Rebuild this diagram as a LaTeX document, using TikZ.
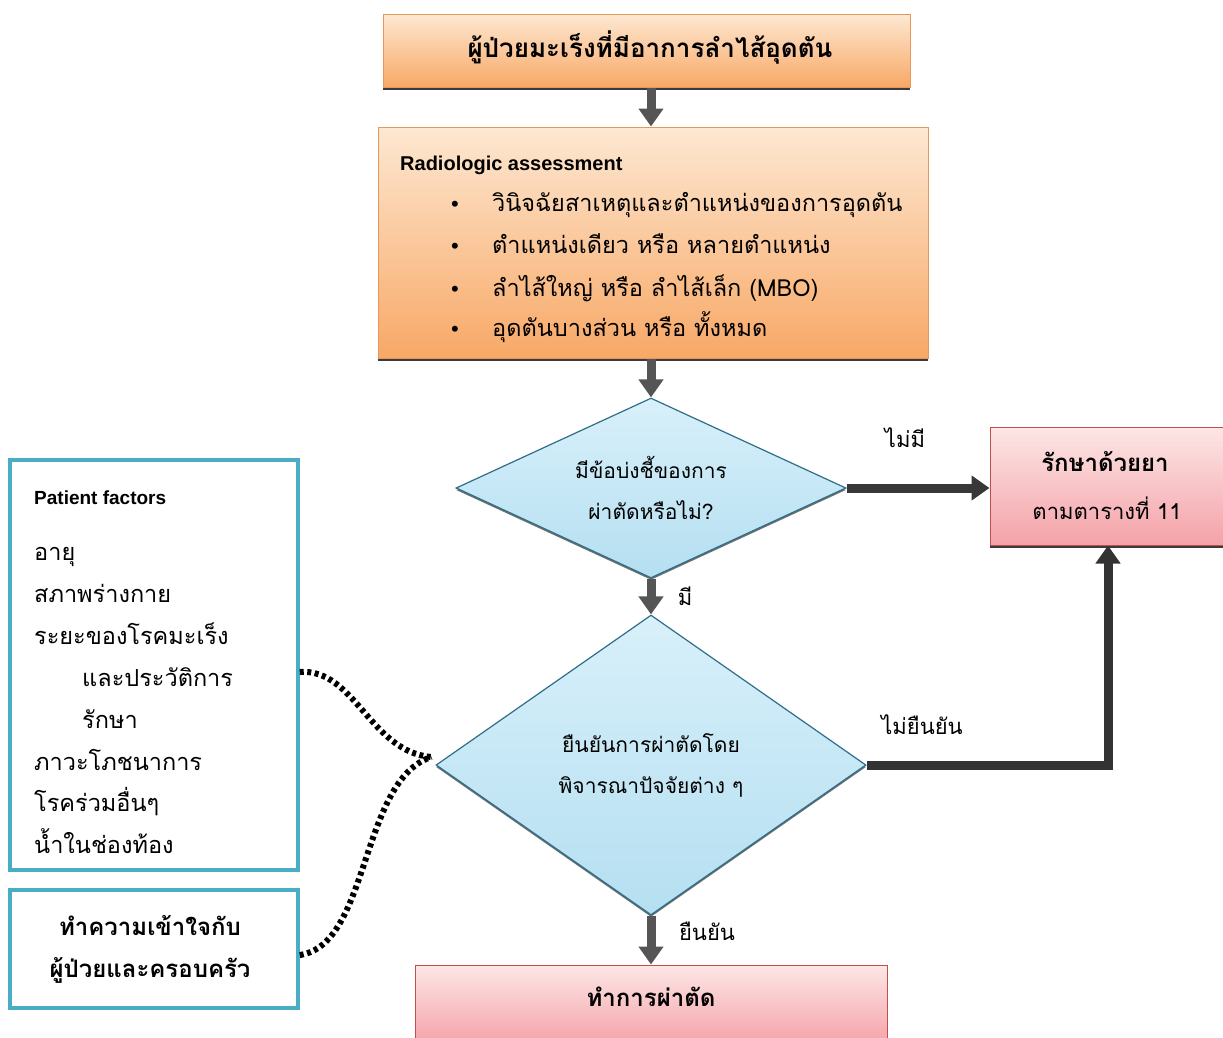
\documentclass[tikz,border=0pt]{standalone}
\usepackage{fontspec}
\setmainfont{Liberation Sans}
\newfontfamily\thai[Script=Thai]{Loma}
\usetikzlibrary{shapes.geometric,arrows.meta,shadows}
\definecolor{orTop}{HTML}{FDE8D2}
\definecolor{orBot}{HTML}{F8A866}
\definecolor{orBorder}{HTML}{E8975A}
\definecolor{pkTop}{HTML}{FDE6E6}
\definecolor{pkBot}{HTML}{F4A2A8}
\definecolor{pkBorder}{HTML}{C0504D}
\definecolor{blTop}{HTML}{D8F0FA}
\definecolor{blBot}{HTML}{B5DFF1}
\definecolor{blBorder}{HTML}{2F6E88}
\definecolor{tealB}{HTML}{4BACC6}
\definecolor{arrGray}{HTML}{555555}
\begin{document}
\begin{tikzpicture}[x=1pt,y=-1pt,
  orangebox/.style={draw=orBorder,line width=1pt,top color=orTop,bottom color=orBot,
    drop shadow={shadow xshift=0pt,shadow yshift=-3pt,fill=black!85,opacity=0.9},inner sep=0pt},
  pinkbox/.style={draw=pkBorder,line width=1pt,top color=pkTop,bottom color=pkBot,
    drop shadow={shadow xshift=0pt,shadow yshift=-3pt,fill=black!85,opacity=0.9},inner sep=0pt},
  decbox/.style={diamond,draw=blBorder,line width=1.2pt,top color=blTop,bottom color=blBot,
    drop shadow={shadow xshift=0pt,shadow yshift=-2pt,fill=black!70,opacity=0.8},
    inner sep=0pt,aspect=2,align=center,font=\thai\fontsize{21}{41}\selectfont},
  sidebox/.style={draw=tealB,line width=3.5pt,fill=white,inner sep=0pt},
  flowarrow/.style={draw=arrGray,line width=9pt,-{Triangle[width=24pt,length=18pt]}},
  dotline/.style={draw=black,line width=6pt,dash pattern=on 4pt off 3.5pt},
  thaitxt/.style={font=\thai\fontsize{23.5}{28}\selectfont,inner sep=0pt},
  thaibold/.style={font=\thai\bfseries\fontsize{24}{28}\selectfont,inner sep=0pt},
  lbl/.style={font=\thai\fontsize{22}{26}\selectfont,inner sep=0pt}
]
\useasboundingbox (0,0) rectangle (1223,1037);
\fill[white] (0,0) rectangle (1223,1037);

% top box
\node[orangebox,minimum width=527pt,minimum height=73pt] (b1) at (646.5,50.5) {};
\node[font=\thai\bfseries\fontsize{26}{30}\selectfont,inner sep=0pt] (t1) at (650,48) {ผู้ป่วยมะเร็งที่มีอาการลำไส้อุดตัน};

% radiologic box
\node[orangebox,minimum width=550pt,minimum height=231pt] (b2) at (653,242.5) {};
\node[anchor=base west,font=\bfseries\fontsize{20}{24}\selectfont,inner sep=0pt] (t2) at (400,170) {Radiologic assessment};
\foreach \yy/\tx [count=\i] in {211/วินิจฉัยสาเหตุและตำแหน่งของการอุดตัน,253/ตำแหน่งเดียว หรือ หลายตำแหน่ง,296/ลำไส้ใหญ่ หรือ ลำไส้เล็ก (MBO),336/อุดตันบางส่วน หรือ ทั้งหมด}{
  \node[anchor=base,font=\fontsize{22}{24}\selectfont,inner sep=0pt] (bul\i) at (455,\yy) {•};
  \node[anchor=base west,thaitxt] (li\i) at (492,\yy) {\tx};
}

% decision 1
\node[decbox,minimum width=390pt,minimum height=180pt] (d1) at (651,488) {มีข้อบ่งชี้ของการ\\ผ่าตัดหรือไม่?};

% right box
\node[pinkbox,minimum width=236pt,minimum height=118pt] (rb) at (1108,486) {};
\node[thaibold] (rt1) at (1105,462) {รักษาด้วยยา};
\node[font=\thai\fontsize{22}{26}\selectfont,inner sep=0pt] (rt2) at (1107,508) {ตามตารางที่ 11};

% decision 2
\node[decbox,minimum width=430pt,minimum height=300pt] (d2) at (651,765) {ยืนยันการผ่าตัดโดย\\พิจารณาปัจจัยต่าง ๆ};

% bottom box
\node[pinkbox,minimum width=472pt,minimum height=80pt] (bb) at (651,1005) {};
\node[thaibold] (bt) at (651,997) {ทำการผ่าตัด};

% left boxes
\node[sidebox,minimum width=288pt,minimum height=410pt] (lb1) at (154,665) {};
\node[anchor=base west,font=\bfseries\fontsize{19}{22}\selectfont,inner sep=0pt] (pf) at (34,504) {Patient factors};
\foreach \xx/\yy/\tx [count=\i] in {34/560/อายุ,34/602/สภาพร่างกาย,34/644/ระยะของโรคมะเร็ง,82/686/และประวัติการ,82/728/รักษา,34/770/ภาวะโภชนาการ,34/811/โรคร่วมอื่นๆ,34/853/น้ำในช่องท้อง}{
  \node[anchor=base west,thaitxt] (pl\i) at (\xx,\yy) {\tx};
}
\node[sidebox,minimum width=288pt,minimum height=118pt] (lb2) at (154,949) {};
\node[thaibold] (lt1) at (150,926) {ทำความเข้าใจกับ};
\node[thaibold] (lt2) at (150,970) {ผู้ป่วยและครอบครัว};

% arrows
\draw[flowarrow] (b1.south -| d1.north) -- (b2.north -| d1.north);
\draw[flowarrow] (b2.south -| d1.north) -- (d1.north);
\draw[flowarrow] (d1.south) -- (d2.north);
\draw[flowarrow] (d2.south) -- (bb.north);
\draw[flowarrow,draw=black!78] (d1.east) -- (d1.east -| rb.west);
\draw[flowarrow,draw=black!80,line join=miter] (d2.east) -| (rb.south);

% labels
\node[lbl] (l1) at (905,438) {ไม่มี};
\node[lbl] (l2) at (685,596) {มี};
\node[lbl] (l3) at (922,725) {ไม่ยืนยัน};
\node[lbl] (l4) at (707,931) {ยืนยัน};

% dotted connectors
\coordinate (c1) at (lb1.east |- 0,672);
\coordinate (c2) at (lb2.east |- 0,955);
\coordinate (cm) at ([xshift=-4pt,yshift=8pt]d2.west);
\draw[dotline] (c1) .. controls (355,668) and (370,752) .. (cm);
\draw[dotline] (c2) .. controls (370,945) and (360,780) .. (cm);
\end{tikzpicture}
\end{document}
